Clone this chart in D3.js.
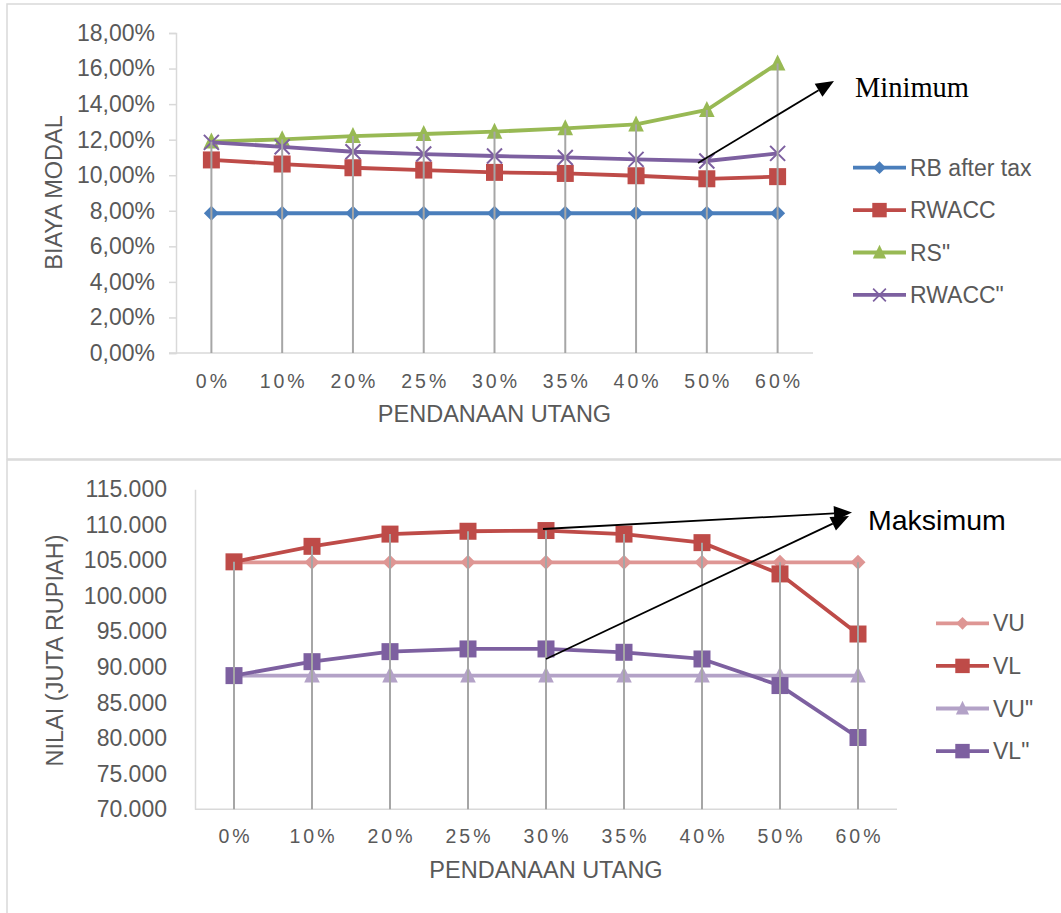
<!DOCTYPE html>
<html>
<head>
<meta charset="utf-8">
<script src="https://cdn.jsdelivr.net/npm/d3@7"></script>
<style>
  html, body { margin: 0; padding: 0; background: #fff; }
  svg { display: block; }
</style>
</head>
<body>
<div id="chart"></div>
<script>
// ---------- DATA ----------
const categories = ["0%", "10%", "20%", "25%", "30%", "35%", "40%", "50%", "60%"];

// Top chart: BIAYA MODAL (%)
const rbAfterTax  = [7.86, 7.86, 7.86, 7.86, 7.86, 7.86, 7.86, 7.86, 7.86];
const rwacc       = [10.86, 10.63, 10.42, 10.29, 10.16, 10.10, 9.97, 9.80, 9.92];
const rsDouble    = [11.89, 12.02, 12.20, 12.32, 12.45, 12.64, 12.86, 13.67, 16.29];
const rwaccDouble = [11.85, 11.60, 11.32, 11.19, 11.08, 11.00, 10.89, 10.80, 11.23];
const topSeriesNames = ["RB after tax", "RWACC", "RS\"", "RWACC\""];
const topTicks = [0, 2, 4, 6, 8, 10, 12, 14, 16, 18];

// Bottom chart: NILAI (JUTA RUPIAH)
const vu       = [104730, 104730, 104730, 104730, 104730, 104730, 104730, 104730, 104730];
const vl       = [104800, 106980, 108700, 109100, 109200, 108700, 107500, 103100, 94650];
const vuDouble = [88800, 88800, 88800, 88800, 88800, 88800, 88800, 88800, 88800];
const vlDouble = [88800, 90760, 92170, 92550, 92550, 92080, 91140, 87400, 80100];
const bottomSeriesNames = ["VU", "VL", "VU\"", "VL\""];
const bottomTicks = [70000, 75000, 80000, 85000, 90000, 95000, 100000, 105000, 110000, 115000];

const xTitle = "PENDANAAN UTANG";
const topYTitle = "BIAYA MODAL";
const bottomYTitle = "NILAI (JUTA RUPIAH)";
const topNote = "Minimum";
const bottomNote = "Maksimum";

// ---------- DRAWING ----------
const SANS = "'Liberation Sans', Arial, sans-serif";
const SERIF = "'Liberation Serif', 'Times New Roman', serif";
const W = 1061, H = 913;
const svg = d3.select("#chart").append("svg").attr("width", W).attr("height", H)
  .style("font-family", SANS);
svg.append("rect").attr("width", W).attr("height", H).attr("fill", "#fff");

// frames
svg.append("rect").attr("x", 7).attr("y", 4).attr("width", 1100).attr("height", 455)
  .attr("fill", "none").attr("stroke", "#D9D9D9").attr("stroke-width", 1.5);
svg.append("rect").attr("x", 7).attr("y", 460).attr("width", 1100).attr("height", 500)
  .attr("fill", "none").attr("stroke", "#D9D9D9").attr("stroke-width", 1.5);

const markerPaths = {
  diamond: "M0,-7.5L7.5,0L0,7.5L-7.5,0Z",
  square: "M-8.5,-8.5H8.5V8.5H-8.5Z",
  triangle: "M0,-9L7.8,7H-7.8Z",
  x: "M-7.5,-7.5L7.5,7.5M7.5,-7.5L-7.5,7.5"
};

function drawMarker(g, type, color, x, y, scale) {
  const p = g.append("path").attr("d", markerPaths[type])
    .attr("transform", `translate(${x},${y}) scale(${scale || 1})`);
  if (type === "x") p.attr("fill", "none").attr("stroke", color).attr("stroke-width", 2);
  else p.attr("fill", color).attr("stroke", "none");
}

function drawChart(cfg) {
  const g = svg.append("g");
  const x = d3.scaleBand().domain(categories).range(cfg.xRange);
  const y = d3.scaleLinear().domain(cfg.yDomain).range(cfg.yRange);
  const cx = c => x(c) + x.bandwidth() / 2;

  // y axis
  const yAxis = d3.axisLeft(y).tickValues(cfg.ticks).tickFormat(cfg.fmt)
    .tickSize(cfg.tickLen).tickPadding(cfg.tickPad);
  const ya = g.append("g").attr("transform", `translate(${cfg.xRange[0]},0)`).call(yAxis);
  ya.attr("font-family", SANS);
  ya.select(".domain").attr("stroke", "#D9D9D9").attr("stroke-width", 1.5);
  ya.selectAll(".tick line").attr("stroke", "#D9D9D9").attr("stroke-width", 1.5);
  ya.selectAll(".tick text").attr("font-size", 23).attr("fill", "#595959");

  // x axis
  const xAxis = d3.axisBottom(x).tickSize(0).tickPadding(0);
  const xa = g.append("g").attr("transform", `translate(0,${cfg.yRange[0]})`).call(xAxis);
  xa.attr("font-family", SANS);
  xa.select(".domain").remove();
  g.append("line").attr("x1", cfg.xRange[0] - cfg.tickLen).attr("x2", cfg.xRange[1])
    .attr("y1", cfg.yRange[0]).attr("y2", cfg.yRange[0])
    .attr("stroke", "#D9D9D9").attr("stroke-width", 1.5);
  xa.selectAll(".tick text").attr("font-size", 19.5).attr("fill", "#595959")
    .style("letter-spacing", "3px")
    .attr("dy", 0).attr("x", 1.5).attr("y", cfg.xTickBaseline - cfg.yRange[0]);

  // titles
  g.append("text").attr("x", cfg.xTitlePos[0]).attr("y", cfg.xTitlePos[1])
    .attr("text-anchor", "middle").attr("font-size", 23.5).attr("fill", "#595959").text(xTitle);
  g.append("text").attr("transform", `translate(${cfg.yTitlePos[0]},${cfg.yTitlePos[1]}) rotate(-90)`)
    .attr("text-anchor", "middle").attr("dy", "0.35em").attr("font-size", 23.5)
    .attr("fill", "#595959").text(cfg.yTitle);

  // series
  const line = d3.line().x((d, i) => cx(categories[i])).y(d => y(d));
  cfg.series.forEach(s => {
    g.append("path").datum(s.values).attr("d", line)
      .attr("fill", "none").attr("stroke", s.color).attr("stroke-width", 3.8)
      .attr("stroke-linejoin", "round");
    s.values.forEach((v, i) => drawMarker(g, s.marker, s.color, cx(categories[i]), y(v)));
  });

  // drop lines
  categories.forEach((c, i) => {
    const mx = d3.max(cfg.series, s => s.values[i]);
    g.append("line").attr("x1", cx(c)).attr("x2", cx(c))
      .attr("y1", y(mx)).attr("y2", cfg.yRange[0])
      .attr("stroke", "#A6A6A6").attr("stroke-width", 2);
  });

  // legend
  cfg.series.forEach((s, i) => {
    const ly = cfg.legend.y0 + i * cfg.legend.dy;
    g.append("line").attr("x1", cfg.legend.x0).attr("x2", cfg.legend.x0 + 53)
      .attr("y1", ly).attr("y2", ly).attr("stroke", s.color).attr("stroke-width", 3.8);
    drawMarker(g, s.marker, s.color, cfg.legend.x0 + 26.5, ly, 0.85);
    g.append("text").attr("x", cfg.legend.x0 + 57).attr("y", ly).attr("dy", "0.35em")
      .attr("font-size", 23).attr("fill", "#595959").text(s.name);
  });
  return g;
}

const fmtPct = v => v.toFixed(2).replace(".", ",") + "%";
const idLocale = d3.formatLocale({ decimal: ",", thousands: ".", grouping: [3], currency: ["Rp", ""] });
const fmtNum = idLocale.format(",");

drawChart({
  xRange: [176, 813], yRange: [353, 33], yDomain: [0, 18],
  ticks: topTicks, fmt: fmtPct, tickLen: 7, tickPad: 14,
  xTickBaseline: 387.5, xTitlePos: [494.5, 422], yTitlePos: [54, 192.5], yTitle: topYTitle,
  series: [
    { name: topSeriesNames[0], values: rbAfterTax, color: "#4A7EBB", marker: "diamond" },
    { name: topSeriesNames[1], values: rwacc, color: "#BE4B48", marker: "square" },
    { name: topSeriesNames[2], values: rsDouble, color: "#98B954", marker: "triangle" },
    { name: topSeriesNames[3], values: rwaccDouble, color: "#7D60A0", marker: "x" }
  ],
  legend: { x0: 853, y0: 167.7, dy: 42.4 }
});

drawChart({
  xRange: [195, 897], yRange: [809.3, 489.3], yDomain: [70000, 115000],
  ticks: bottomTicks, fmt: fmtNum, tickLen: 0, tickPad: 28,
  xTickBaseline: 843.5, xTitlePos: [546, 878], yTitlePos: [55, 650.5], yTitle: bottomYTitle,
  series: [
    { name: bottomSeriesNames[0], values: vu, color: "#DE9694", marker: "diamond" },
    { name: bottomSeriesNames[1], values: vl, color: "#BE4B48", marker: "square" },
    { name: bottomSeriesNames[2], values: vuDouble, color: "#B3A2C7", marker: "triangle" },
    { name: bottomSeriesNames[3], values: vlDouble, color: "#7D60A0", marker: "square" }
  ],
  legend: { x0: 936, y0: 623.3, dy: 42.6 }
});

// annotations
function arrow(x1, y1, x2, y2) {
  const ang = Math.atan2(y2 - y1, x2 - x1);
  const L = 18, Wd = 7.5;
  const bx = x2 - L * Math.cos(ang), by = y2 - L * Math.sin(ang);
  svg.append("line").attr("x1", x1).attr("y1", y1).attr("x2", bx).attr("y2", by)
    .attr("stroke", "#000").attr("stroke-width", 1.8);
  const p1 = [bx + Wd * Math.sin(ang), by - Wd * Math.cos(ang)];
  const p2 = [bx - Wd * Math.sin(ang), by + Wd * Math.cos(ang)];
  svg.append("path").attr("d", `M${x2},${y2}L${p1}L${p2}Z`).attr("fill", "#000");
}
arrow(698, 163, 834, 81);
svg.append("text").attr("x", 855).attr("y", 96.5).attr("font-family", SERIF)
  .attr("font-size", 28.5).attr("fill", "#000").text(topNote);

arrow(543, 529, 852, 512.5);
arrow(546, 659, 849, 516);
svg.append("text").attr("x", 868).attr("y", 530).attr("font-family", SANS)
  .attr("font-size", 28.5).attr("fill", "#000").text(bottomNote);
</script>
</body>
</html>
